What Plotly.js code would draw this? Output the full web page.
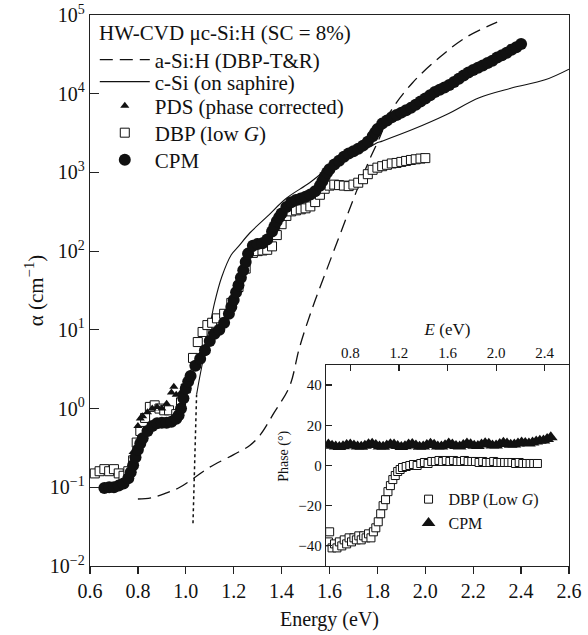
<!DOCTYPE html>
<html><head><meta charset="utf-8">
<script src="https://cdn.plot.ly/plotly-3.0.1.min.js"></script>
<style>html,body{margin:0;padding:0;background:#fff}#chart{width:588px;height:635px}</style>
</head><body><div id="chart"></div>
<script>
// ---- main plot: absorption coefficient alpha (cm^-1) vs energy (eV)
const cpmE = [0.66,0.68,0.70,0.72,0.74,0.76,0.77,0.78,0.79,0.80,0.81,0.82,0.84,0.86,0.88,0.90,0.92,0.94,0.96,0.97,0.98,0.99,1.00,1.01,1.02,1.04,1.06,1.08,1.10,1.12,1.14,1.16,1.18,1.19,1.20,1.21,1.22,1.23,1.24,1.25,1.26,1.28,1.30,1.32,1.34,1.36,1.37,1.38,1.39,1.40,1.42,1.44,1.46,1.48,1.50,1.52,1.54,1.56,1.57,1.58,1.59,1.60,1.62,1.64,1.66,1.68,1.70,1.72,1.74,1.76,1.78,1.79,1.80,1.82,1.84,1.86,1.88,1.90,1.92,1.94,1.96,1.98,2.00,2.02,2.04,2.06,2.08,2.10,2.12,2.14,2.16,2.18,2.20,2.22,2.24,2.26,2.28,2.30,2.32,2.34,2.36,2.38,2.40];
const cpmAlpha = [0.098,0.10,0.10,0.105,0.112,0.13,0.155,0.19,0.24,0.30,0.36,0.42,0.52,0.60,0.65,0.66,0.66,0.68,0.74,0.82,1.0,1.35,1.8,2.2,2.6,3.5,4.3,5.5,7.2,8.9,10,12.3,16,19.5,24,30,37,46,57,73,93,117,123,126,141,178,205,240,270,300,363,417,447,468,490,525,575,676,770,890,1000,1100,1260,1410,1580,1740,1860,2000,2190,2450,2880,3200,3550,4170,4570,5010,5370,5750,6170,6610,7240,7940,8710,9550,10500,11200,12000,12900,14100,15500,17000,18600,20000,21400,22900,24500,26300,28800,30900,33100,36300,38900,42700];

const pdsE = [0.78,0.80,0.81,0.82,0.84,0.86,0.88,0.90,0.92,0.94,0.95,0.96,0.98,1.00,1.02,1.04,1.06,1.08,1.10,1.12,1.14,1.16,1.18,1.20,1.22,1.24,1.26,1.28];
const pdsAlpha = [0.28,0.6,0.75,0.8,0.9,1.0,1.05,1.0,1.15,1.6,1.9,1.5,1.6,2.0,2.8,3.8,4.8,6,7.5,9.5,10.5,13,17,26,40,60,95,120];

const dbpE = [0.62,0.64,0.66,0.68,0.70,0.72,0.74,0.76,0.78,0.795,0.81,0.83,0.85,0.87,0.89,0.91,0.93,0.96,0.98,1.00,1.03,1.05,1.07,1.09,1.11,1.13,1.16,1.19,1.22,1.25,1.28,1.30,1.32,1.34,1.36,1.38,1.40,1.42,1.44,1.46,1.48,1.50,1.52,1.54,1.56,1.58,1.60,1.62,1.64,1.66,1.68,1.70,1.72,1.74,1.76,1.78,1.80,1.82,1.84,1.86,1.88,1.90,1.92,1.94,1.96,1.98,2.00];
const dbpAlpha = [0.15,0.16,0.17,0.16,0.17,0.15,0.14,0.16,0.22,0.37,0.52,0.76,1.05,1.1,1.0,0.95,0.95,0.85,1.2,1.8,4.4,7,9.4,11.5,12.3,14,16,22,35,60,95,100,102,104,115,160,220,280,320,330,340,350,370,420,520,620,680,700,690,680,670,700,740,820,950,1080,1150,1200,1250,1300,1320,1360,1400,1440,1470,1500,1520];

const cSiE = [1.045,1.058,1.08,1.10,1.12,1.15,1.19,1.22,1.267,1.337,1.42,1.517,1.61,1.683,1.767,1.795,1.82,1.946,2.087,2.225,2.36,2.5,2.6];
const cSiAlpha = [1.5,2.5,5.5,11,22,47,90,115,170,270,470,740,1230,1660,2100,2350,2500,3500,5400,8900,11800,15000,20500];

const dottedE = [1.03,1.045];
const dottedAlpha = [0.035,1.5];

const aSiE = [0.80,0.86,0.92,0.975,1.04,1.10,1.20,1.267,1.31,1.37,1.433,1.475,1.53,1.59,1.655,1.71,1.767,1.81,1.85,1.946,2.06,2.17,2.3];
const aSiAlpha = [0.071,0.074,0.085,0.1,0.135,0.18,0.26,0.34,0.46,0.9,1.9,6,19.5,60,200,550,1450,2800,5600,13700,29000,52000,81000];

const xTickVals = [0.6,0.8,1.0,1.2,1.4,1.6,1.8,2.0,2.2,2.4,2.6];
const yTickVals = [1e-2,1e-1,1e0,1e1,1e2,1e3,1e4,1e5];
const yTickText = ['10<sup>−2</sup>','10<sup>−1</sup>','10<sup>0</sup>','10<sup>1</sup>','10<sup>2</sup>','10<sup>3</sup>','10<sup>4</sup>','10<sup>5</sup>'];

// ---- inset: phase (degrees) vs energy
const phCpmE = [0.62,0.65,0.68,0.71,0.74,0.77,0.80,0.83,0.86,0.89,0.92,0.95,0.98,1.01,1.04,1.07,1.10,1.13,1.16,1.19,1.22,1.25,1.28,1.31,1.34,1.37,1.40,1.43,1.46,1.49,1.52,1.55,1.58,1.61,1.64,1.67,1.70,1.73,1.76,1.79,1.82,1.85,1.88,1.91,1.94,1.97,2.00,2.03,2.06,2.09,2.12,2.15,2.18,2.21,2.24,2.27,2.30,2.33,2.36,2.39,2.42,2.45];
const phCpm = [10.5,9.8,9.5,9.2,9.6,10.2,10.5,10.0,9.4,9.3,9.8,10.6,10.8,10.2,9.5,9.3,9.9,10.6,10.5,9.7,9.2,9.6,10.4,10.7,10.0,9.3,9.4,10.2,10.8,10.3,9.5,9.4,10.1,10.9,10.5,9.7,9.5,10.2,11.0,10.6,9.8,9.7,10.4,11.1,10.8,10.0,10.0,10.7,11.3,10.9,10.3,10.4,11.0,11.5,11.2,11.0,11.4,12.0,12.3,12.5,13.2,14.0];

const phDbpE = [0.62,0.63,0.65,0.67,0.69,0.71,0.73,0.75,0.77,0.79,0.81,0.83,0.85,0.87,0.89,0.91,0.93,0.95,0.97,0.99,1.01,1.03,1.05,1.07,1.09,1.11,1.13,1.15,1.17,1.19,1.21,1.23,1.26,1.29,1.32,1.35,1.38,1.41,1.44,1.47,1.50,1.53,1.56,1.59,1.62,1.65,1.68,1.71,1.74,1.77,1.80,1.83,1.86,1.89,1.92,1.95,1.98,2.01,2.04,2.07,2.10,2.13,2.16,2.19,2.22,2.25,2.28,2.31,2.34];
const phDbp = [-38,-33,-41,-39,-41,-38,-40,-37,-39,-36,-38,-36,-37,-35,-37,-35,-36,-34,-36,-33,-31,-28,-24,-20,-17,-13,-10,-7,-5,-3,-2,-1,-0.5,0,0.5,0,1,1.5,1,2,2,2.5,2,2.5,2,2.5,2,2,2.5,2,2,2,1.5,2,1.5,1.5,2,1.5,1.5,1.5,1.5,1.5,1,1.5,1,1,1,1,1];
const insetTickVals = [0.8,1.2,1.6,2.0,2.4];
const phaseTickVals = [-40,-20,0,20,40];
const phaseTickText = ['−40','−20','0','20','40'];

const FONT = 'Liberation Serif, Times New Roman, serif';
const INK = '#111';

const traces = [
  {x:aSiE, y:aSiAlpha, mode:'lines', name:'a-Si:H (DBP-T&amp;R)', line:{color:INK, width:1.3, dash:'13px,7px', shape:'spline'}, legend:'legend'},
  {x:cSiE, y:cSiAlpha, mode:'lines', name:'c-Si (on saphire)', line:{color:INK, width:1.1, shape:'spline'}, legend:'legend3'},
  {x:dottedE, y:dottedAlpha, mode:'lines', showlegend:false, line:{color:INK, width:1.5, dash:'dot'}},
  {x:dbpE, y:dbpAlpha, mode:'markers', name:'DBP (low <i>G</i>)', marker:{symbol:'square', size:9, color:'white', line:{color:INK, width:1}}, legend:'legend5'},
  {x:pdsE, y:pdsAlpha, mode:'markers', name:'PDS (phase corrected)', marker:{symbol:'triangle-up', size:8, color:INK}, legend:'legend4'},
  {x:cpmE, y:cpmAlpha, mode:'markers', name:'CPM', marker:{symbol:'circle', size:12, color:INK}, legend:'legend6'},
  {x:phDbpE, y:phDbp, xaxis:'x2', yaxis:'y2', mode:'markers', name:'DBP (Low <i>G</i>)', marker:{symbol:'square', size:8, color:'white', line:{color:INK, width:1}}, legend:'legend2', legendrank:1},
  {x:phCpmE, y:phCpm, xaxis:'x2', yaxis:'y2', mode:'markers', name:'CPM', marker:{symbol:'triangle-up', size:12, color:INK}, legend:'legend2', legendrank:2}
];

const axisCommon = {showgrid:false, zeroline:false, showline:true, linecolor:'#222', linewidth:1.3, tickcolor:'#222', tickwidth:1.2};

function mainLegend(yPaper) {
  return {x:0.01, y:yPaper, xanchor:'left', yanchor:'middle', bgcolor:'rgba(0,0,0,0)', borderwidth:0,
    font:{size:21, family:FONT}, itemwidth:50, tracegroupgap:0};
}

const layout = {
  width:588, height:635,
  margin:{l:90, r:19, t:15, b:69},
  paper_bgcolor:'white', plot_bgcolor:'white',
  font:{family:FONT, size:20, color:INK},
  showlegend:true,
  xaxis:Object.assign({}, axisCommon, {
    domain:[0,1], range:[0.6,2.6], tickvals:xTickVals, tickformat:'.1f',
    ticks:'outside', ticklen:7, mirror:true, tickfont:{size:20},
    title:{text:'Energy (eV)', font:{size:20}, standoff:10}
  }),
  yaxis:Object.assign({}, axisCommon, {
    type:'log', range:[-2,5], tickvals:yTickVals, ticktext:yTickText,
    ticks:'inside', ticklen:9, mirror:true, tickfont:{size:20},
    title:{text:'α (cm<sup>−1</sup>)', font:{size:21}, standoff:0}
  }),
  xaxis2:Object.assign({}, axisCommon, {
    anchor:'y2', domain:[0.4927,1], side:'top', range:[0.6,2.6], tickvals:insetTickVals, tickformat:'.1f',
    ticks:'inside', ticklen:6, mirror:true, tickfont:{size:15},
    title:{text:'<i>E</i> (eV)', font:{size:17}, standoff:4}
  }),
  yaxis2:Object.assign({}, axisCommon, {
    anchor:'x2', domain:[0,0.3648], range:[-50,50], tickvals:phaseTickVals, ticktext:phaseTickText,
    ticks:'inside', ticklen:6, mirror:true, tickfont:{size:15}
  }),
  legend:mainLegend(0.9183),
  legend3:mainLegend(0.8784),
  legend4:mainLegend(0.8348),
  legend5:mainLegend(0.7858),
  legend6:mainLegend(0.7368),
  legend2:{x:0.665, y:0.152, xanchor:'left', yanchor:'top', bgcolor:'rgba(0,0,0,0)', borderwidth:0,
    font:{size:16, family:FONT}, itemwidth:30, tracegroupgap:0},
  annotations:[
    {text:'HW-CVD μc-Si:H (SC = 8%)', xref:'paper', yref:'paper', x:0.0146, y:0.9673, xanchor:'left', yanchor:'middle', showarrow:false, font:{size:21, family:FONT}},
    {text:'Phase (°)', xref:'paper', yref:'paper', x:0.405, y:0.15, textangle:-90, showarrow:false, font:{size:14, family:FONT}}
  ]
};

Plotly.newPlot('chart', traces, layout, {displayModeBar:false, staticPlot:true});
</script></body></html>
